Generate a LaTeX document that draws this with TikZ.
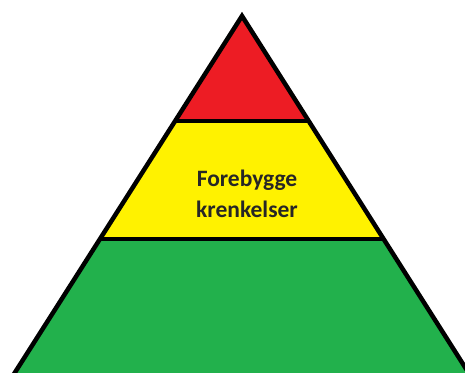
\documentclass[tikz,border=0pt]{standalone}
\usepackage{fontspec}
\setmainfont{Carlito}
\usetikzlibrary{calc}
\definecolor{topred}{HTML}{ED1C24}
\definecolor{midyellow}{HTML}{FFF200}
\definecolor{basegreen}{HTML}{22B14C}
\definecolor{textdark}{HTML}{262626}
\tikzset{
  band/.style={fill=#1, draw=none},
  edge/.style={draw=black, line width=4.5pt, line join=miter},
  label/.style={align=center, font=\fontsize{23.5}{31}\selectfont\bfseries, text=textdark},
}
\begin{document}
\begin{tikzpicture}[x=1pt, y=-1pt]
  \useasboundingbox (0,0) rectangle (465,372);
  \clip (0,0) rectangle (465,372);
  \coordinate (top) at (242,16);
  \coordinate (bl) at (12.7,376);
  \coordinate (br) at (470.6,376);
  % cut points of the two separators
  \coordinate (l1) at ($(top)!0.2917!(bl)$);
  \coordinate (r1) at ($(top)!0.2917!(br)$);
  \coordinate (l2) at ($(top)!0.6194!(bl)$);
  \coordinate (r2) at ($(top)!0.6194!(br)$);
  \fill[band=basegreen] (top) -- (bl) -- (br) -- cycle;
  \fill[band=midyellow] (top) -- (l2) -- (r2) -- cycle;
  \fill[band=topred] (top) -- (l1) -- (r1) -- cycle;
  \draw[edge] (l1) -- (r1);
  \draw[edge] (l2) -- (r2);
  \draw[edge] (bl) -- (top) -- (br) -- cycle;
  \node[label] (prevent) at (247,194) {Forebygge\\krenkelser};
\end{tikzpicture}
\end{document}
